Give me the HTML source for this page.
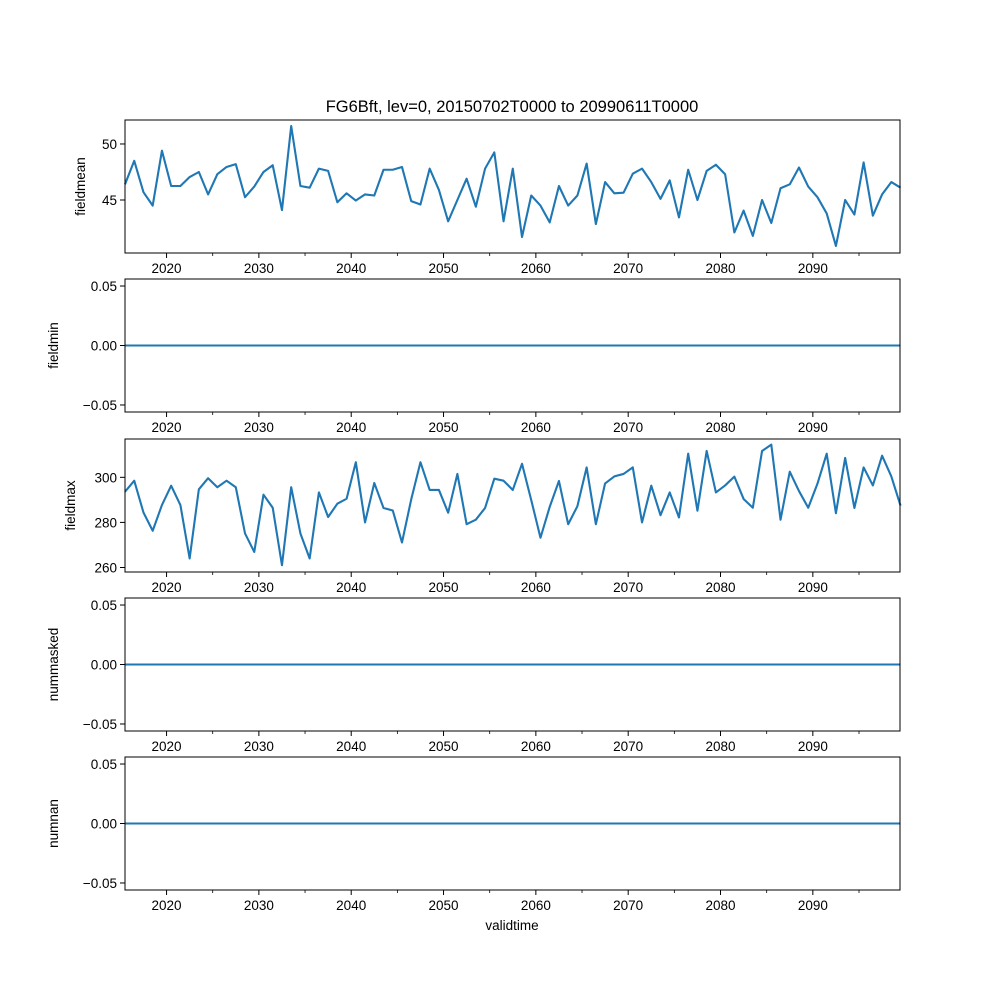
<!DOCTYPE html>
<html><head><meta charset="utf-8"><style>
body{margin:0;background:#fff}
svg text{font-family:"Liberation Sans","DejaVu Sans",sans-serif;fill:#000}
</style></head><body>
<svg id="fig" width="1000" height="1000" xmlns="http://www.w3.org/2000/svg">
<rect width="1000" height="1000" fill="#fff"/>
<text x="512" y="112" font-size="16.5" text-anchor="middle">FG6Bft, lev=0, 20150702T0000 to 20990611T0000</text>
<text x="512" y="930" font-size="13.5" text-anchor="middle">validtime</text>
</svg>
<script>
const fieldmeanValues=[46.4,48.5,45.7,44.5,49.4,46.25,46.25,47.05,47.5,45.5,47.3,47.95,48.2,45.25,46.2,47.5,48.1,44.1,51.6,46.25,46.1,47.8,47.6,44.8,45.6,44.95,45.5,45.4,47.7,47.7,47.95,44.9,44.6,47.8,45.9,43.1,45.0,46.9,44.4,47.8,49.25,43.1,47.8,41.7,45.4,44.5,43.0,46.25,44.5,45.4,48.25,42.85,46.6,45.6,45.65,47.35,47.8,46.6,45.1,46.75,43.45,47.7,45.0,47.6,48.15,47.3,42.1,44.05,41.8,45.0,42.95,46.05,46.4,47.9,46.2,45.25,43.8,40.9,45.0,43.7,48.35,43.6,45.5,46.6,46.1];
const fieldmaxValues=[293.6,298.5,284.4,276.3,287.7,296.3,287.7,264,294.7,299.6,295.6,298.5,295.6,275.1,266.9,292.3,286.5,261,295.6,275.1,264,293.3,282.4,288.3,290.5,306.7,280,297.5,286.4,285.3,271.1,290.2,306.7,294.4,294.4,284.3,301.5,279.2,281.2,286.4,299.4,298.5,294.4,306,289.9,273.2,286.9,298.4,279.2,287.2,304.4,279.2,297.3,300.4,301.5,304.4,280,296.3,283.2,293.3,282.2,310.5,285.2,311.7,293.3,296.4,300.3,290.4,286.5,311.7,314.5,281.2,302.5,293.9,286.5,297.2,310.5,284.1,308.6,286.4,304.4,296.4,309.6,300.4,287.4];
const zeroValues=fieldmeanValues.map(()=>0);
const xTickLabels=["2020","2030","2040","2050","2060","2070","2080","2090"];
const xTickYears=[2020,2030,2040,2050,2060,2070,2080,2090];
const xMinorYears=[2025,2035,2045,2055,2065,2075,2085,2095];
const meanTicks=[45,50];
const maxTicks=[260,280,300];
const zeroTicks=[-0.05,0,0.05];

const NS="http://www.w3.org/2000/svg";
const svg=document.getElementById('fig');
const X0=125,X1=900,YR0=2015.5,YR1=2099.44;
const xs=y=>X0+(y-YR0)/(YR1-YR0)*(X1-X0);
function mk(tag,attrs,parent){const e=document.createElementNS(NS,tag);for(const k in attrs)e.setAttribute(k,attrs[k]);(parent||svg).appendChild(e);return e;}
function fmt(v,dec){let s=v.toFixed(dec);if(v<0)s="\u2212"+s.slice(1);return s;}
const panels=[
 {name:'fieldmean',vals:fieldmeanValues,top:120,bot:253,lo:40.27,hi:52.14,ticks:meanTicks,dec:0,lx:85},
 {name:'fieldmin',vals:zeroValues,top:279,bot:412,lo:-0.0559,hi:0.0559,ticks:zeroTicks,dec:2,lx:58},
 {name:'fieldmax',vals:fieldmaxValues,top:439,bot:572,lo:258,hi:317,ticks:maxTicks,dec:0,lx:75},
 {name:'nummasked',vals:zeroValues,top:598,bot:731,lo:-0.0559,hi:0.0559,ticks:zeroTicks,dec:2,lx:58},
 {name:'numnan',vals:zeroValues,top:757,bot:890,lo:-0.0559,hi:0.0559,ticks:zeroTicks,dec:2,lx:58}
];
panels.forEach(p=>{
 const g=mk('g',{});
 
 
 const ys=v=>p.bot-(v-p.lo)/(p.hi-p.lo)*(p.bot-p.top);
 const pts=p.vals.map((v,i)=>xs(YR0+i).toFixed(2)+','+ys(v).toFixed(2)).join(' ');
 const line=mk('polyline',{points:pts,fill:'none',stroke:'#1f77b4','stroke-width':2.1,'stroke-linejoin':'round'},g);
 
 
 const frame=mk('rect',{x:X0,y:p.top,width:X1-X0,height:p.bot-p.top,fill:'none',stroke:'#000','stroke-width':1},g);
 
 
 p.ticks.forEach(t=>{
  const y=ys(t);
  mk('line',{x1:X0-5,x2:X0,y1:y,y2:y,stroke:'#000','stroke-width':1},g);
  const tx=mk('text',{x:X0-8,y:y+5,'font-size':13.5,'text-anchor':'end'},g);
  tx.textContent=fmt(t,p.dec);
  
  
 });
 xTickYears.forEach((yr,i)=>{
  const x=xs(yr);
  mk('line',{x1:x,x2:x,y1:p.bot,y2:p.bot+5,stroke:'#000','stroke-width':1},g);
  const tx=mk('text',{x:x,y:p.bot+20,'font-size':13.5,'text-anchor':'middle'},g);
  tx.textContent=xTickLabels[i];
  
  
 });
 xMinorYears.forEach(yr=>{const x=xs(yr);mk('line',{x1:x,x2:x,y1:p.bot,y2:p.bot+3,stroke:'#000','stroke-width':0.8},g);});
 const cy=(p.top+p.bot)/2;
 const lab=mk('text',{x:p.lx,y:cy,'font-size':13.5,'text-anchor':'middle',transform:`rotate(-90 ${p.lx} ${cy})`},g);
 lab.textContent=p.name;
 
 
});
</script>
</body></html>
